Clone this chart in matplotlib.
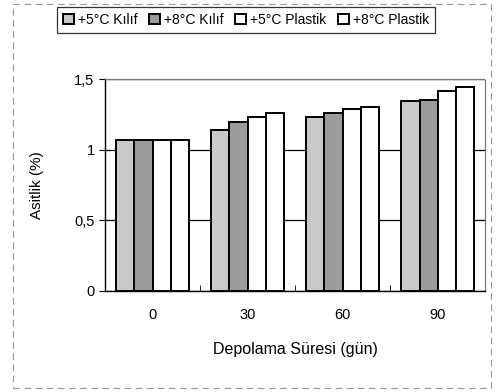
import matplotlib.pyplot as plt
import numpy as np

plt.rcParams['font.family'] = ['Liberation Sans', 'DejaVu Sans']

# süre (gün) ve asitlik degerleri
gunler = ['0', '30', '60', '90']
seriler = ['+5°C Kılıf', '+8°C Kılıf', '+5°C Plastik', '+8°C Plastik']
kilif_5 = [1.07, 1.14, 1.23, 1.345]
kilif_8 = [1.07, 1.20, 1.26, 1.355]
plastik_5 = [1.07, 1.235, 1.29, 1.415]
plastik_8 = [1.07, 1.26, 1.30, 1.445]
renkler = ['#c9c9c9', '#9c9c9c', 'white', 'white']

fig = plt.figure(figsize=(4.97, 3.92), dpi=100)
ax = fig.add_axes([0.2113, 0.2577, 0.7647, 0.5403])

x = np.arange(len(gunler))
w = 0.19
degerler = [kilif_5, kilif_8, plastik_5, plastik_8]
for i, (ad, d) in enumerate(zip(seriler, degerler)):
    ax.bar(x + (i - 1.5) * w, d, w, color=renkler[i], edgecolor='black',
           linewidth=1.4, label=ad, zorder=3)

ax.set_xlim(-0.5, 3.5)
ax.set_ylim(0, 1.5)
ax.set_yticks([0, 0.5, 1, 1.5])
ax.set_yticklabels(['0', '0,5', '1', '1,5'], fontsize=10.5)
ax.set_xticks(x)
ax.set_xticklabels(gunler, fontsize=10.5)
ax.set_xticks([0.5, 1.5, 2.5], minor=True)
ax.tick_params(axis='x', which='major', length=0, pad=12)
ax.tick_params(axis='x', which='minor', length=4, direction='in')
ax.tick_params(axis='y', length=4, direction='out')
ax.grid(axis='y', color='black', linewidth=0.9, zorder=0)

for s in ['top', 'right']:
    ax.spines[s].set_color('#777777')
    ax.spines[s].set_linestyle((0, (1, 1)))
    ax.spines[s].set_linewidth(0.9)
ax.spines['left'].set_linewidth(1.0)
ax.spines['bottom'].set_linewidth(1.0)

ax.set_xlabel('Depolama Süresi (gün)', fontsize=11.5, labelpad=15)
ax.set_ylabel('Asitlik (%)', fontsize=11, labelpad=22)

leg = fig.legend(loc='center', bbox_to_anchor=(0.495, 0.949), ncol=4,
                 fontsize=10, frameon=True, fancybox=False, edgecolor='black',
                 handlelength=0.8, handleheight=0.8, handletextpad=0.3,
                 columnspacing=0.8, borderpad=0.45)
leg.get_frame().set_linewidth(0.9)

# dis cerceve
fig.add_artist(plt.Rectangle((0.027, 0.01), 0.96, 0.98, transform=fig.transFigure,
                             fill=False, edgecolor='#999999', linewidth=0.8,
                             linestyle=(0, (6, 4))))

fig.savefig('out.png', dpi=100)
